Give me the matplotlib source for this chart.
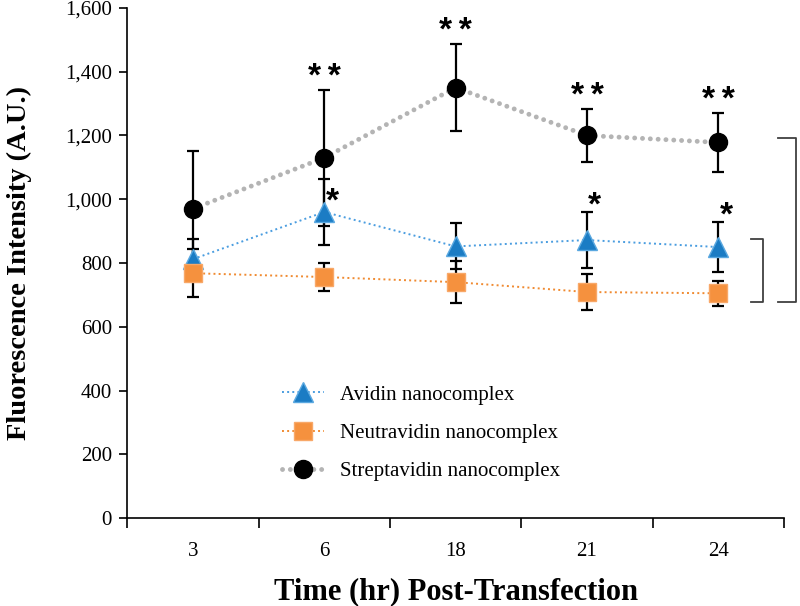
import numpy as np
import matplotlib.pyplot as plt
from matplotlib.ticker import FuncFormatter

plt.rcParams['font.family'] = ['Liberation Serif', 'DejaVu Serif']

# datos
tiempos = ["3", "6", "18", "21", "24"]

avidin = [812, 960, 852, 872, 850]
avidin_err = [62, 104, 72, 88, 78]

neutra = [768, 756, 740, 709, 705]
neutra_err = [75, 44, 66, 57, 40]

strep = [970, 1130, 1350, 1200, 1178]
strep_err = [180, 213, 137, 83, 93]

# significancia
sig_strep = ["", "**", "**", "**", "**"]
sig_avidin = ["", "*", "", "*", "*"]

x = np.arange(len(tiempos)) + 0.5

fig = plt.figure(figsize=(8, 6.06), dpi=100)
ax = fig.add_axes([0.159, 0.145, 0.821, 0.842])

# barras de error primero
for y, e in [(strep, strep_err), (avidin, avidin_err), (neutra, neutra_err)]:
    ax.errorbar(x, y, yerr=e, fmt='none', ecolor='black', elinewidth=1.6,
                capsize=4.5, capthick=1.6, zorder=2)

ax.plot(x, avidin, linestyle=':', color='#4a9de0', lw=1.4, marker='^',
        ms=14, mfc='#1b7cc4', mec='#5aa8e0', mew=1, zorder=4,
        label='Avidin nanocomplex')
ax.plot(x, neutra, linestyle=':', color='#f08a30', lw=1.4, marker='s',
        ms=13, mfc='#f5913e', mec='#f8a868', mew=1, zorder=4,
        label='Neutravidin nanocomplex')
ax.plot(x, strep, linestyle=(0, (0.01, 1.6)), dash_capstyle='round',
        color='#b4b4b4', lw=3.5, marker='o', ms=13, mfc='black', mec='black',
        zorder=3, label='Streptavidin nanocomplex')

# asteriscos
ast = dict(ha='center', va='center', fontsize=24, fontweight='bold',
           family='Liberation Sans')
for i in range(len(x)):
    if sig_strep[i]:
        ax.text(x[i], strep[i] + strep_err[i] + 38,
                "\u2009".join(sig_strep[i]), **ast)
    if sig_avidin[i]:
        # el de 6 h queda junto a la barra, no encima
        yy = avidin[i] + 30 if i == 1 else avidin[i] + avidin_err[i] + 18
        ax.text(x[i] + 0.06, yy, sig_avidin[i], **ast)

# corchetes a la derecha
ax.plot([4.75, 4.84, 4.84, 4.75], [875, 875, 678, 678], color='#404040',
        lw=1.3, clip_on=False)
ax.plot([4.955, 5.095, 5.095, 4.955], [1192, 1192, 678, 678],
        color='#404040', lw=1.3, clip_on=False)

ax.set_xlim(0, 5)
ax.set_ylim(0, 1600)
ax.set_yticks(np.arange(0, 1601, 200))
ax.yaxis.set_major_formatter(FuncFormatter(lambda v, p: f"{int(v):,}"))
ax.set_xticks(np.arange(0, 6))
ax.set_xticklabels([])
ax.set_xticks(x, minor=True)
ax.set_xticklabels(tiempos, minor=True)
ax.tick_params(axis='x', which='major', direction='out', length=7, width=1.2)
ax.tick_params(axis='x', which='minor', length=0, pad=17, labelsize=15)
ax.tick_params(axis='y', direction='out', length=6, width=1.2, labelsize=15,
               pad=5)

for s in ['top', 'right']:
    ax.spines[s].set_visible(False)
for s in ['left', 'bottom']:
    ax.spines[s].set_linewidth(1.2)

ax.set_xlabel("Time (hr) Post-Transfection", fontsize=22, fontweight='bold',
              labelpad=12)
ax.set_ylabel("Fluorescence Intensity (A.U.)", fontsize=20.5,
              fontweight='bold', labelpad=24)

ax.legend(loc='lower left', bbox_to_anchor=(0.223, 0.056), frameon=False,
          fontsize=15, handlelength=2.0, handletextpad=0.8,
          labelspacing=0.9, borderaxespad=0)

fig.savefig("out.png", dpi=100)
